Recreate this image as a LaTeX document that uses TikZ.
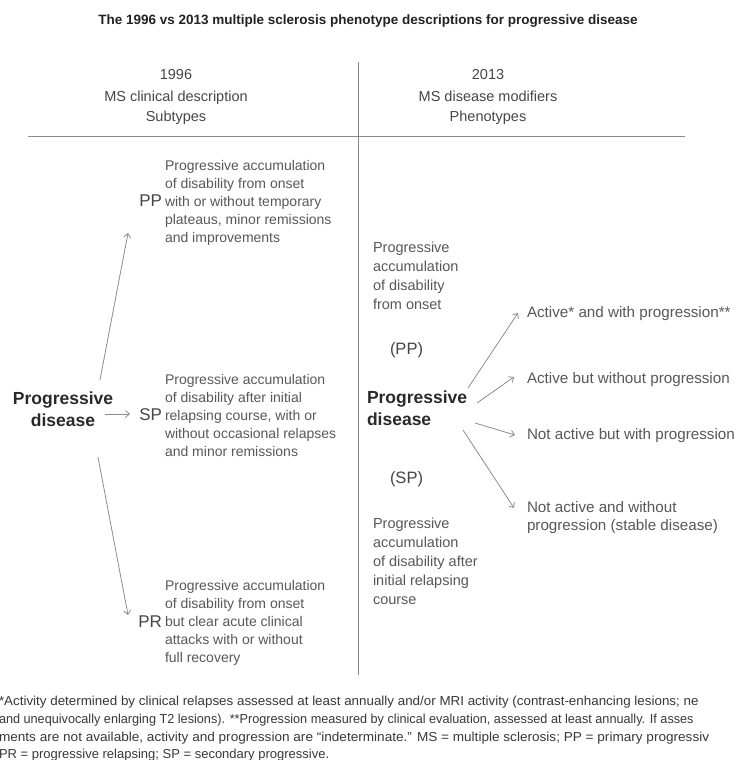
\documentclass[tikz,border=0pt]{standalone}
\usepackage{fontspec}
\setmainfont{Liberation Sans}
\usetikzlibrary{arrows.meta}
\definecolor{titlec}{HTML}{222222}
\definecolor{hdrc}{HTML}{474747}
\definecolor{bodyc}{HTML}{585858}
\definecolor{labc}{HTML}{454545}
\definecolor{boldc}{HTML}{2A2A2A}
\definecolor{rulec}{HTML}{8A8A8A}
\definecolor{arrc}{HTML}{8C8C8C}
\definecolor{footc}{HTML}{383838}
\newcommand{\mlines}[4]{{\fontsize{#2}{#3}\selectfont\begin{tabular}[t]{@{}#1@{}}#4\end{tabular}}}
\begin{document}
\begin{tikzpicture}[x=1pt,y=-1pt,
  every node/.style={inner sep=0pt,outer sep=0pt},
  rulel/.style={draw=rulec,line width=0.9pt},
  arr/.style={draw=arrc,line width=0.8pt,-{Straight Barb[length=4pt,width=7pt,line width=0.8pt]}},
  bodytxt/.style={text=bodyc,anchor=base west},
  labtxt/.style={text=labc,anchor=base east,font=\fontsize{17}{20}\selectfont},
  boldtxt/.style={text=boldc,font=\bfseries},
  opttxt/.style={text=bodyc,anchor=base west,font=\fontsize{15.2}{18}\selectfont},
  foottxt/.style={text=footc,anchor=base west,font=\fontsize{13}{15}\selectfont}]
\useasboundingbox (0,0) rectangle (735,760);
\clip (0,0) rectangle (735,760);
\fill[white] (0,0) rectangle (735,760);

% title
\node[anchor=base,text=titlec,font=\bfseries\fontsize{13.5}{16}\selectfont] (title) at (368,25)
  {The 1996 vs 2013 multiple sclerosis phenotype descriptions for progressive disease};

% headers
\node[anchor=base,text=hdrc] (h96) at (176,80)
  {\mlines{c}{14.5}{21}{1996\\MS clinical description\\Subtypes}};
\node[anchor=base,text=hdrc] (h13) at (488,80)
  {\mlines{c}{14.5}{21}{2013\\MS disease modifiers\\Phenotypes}};

% rules
\coordinate (hl) at (28,136);
\coordinate (hr) at (685,136);
\coordinate (vt) at (358,62);
\coordinate (vb) at (358,675);
\draw[rulel] (hl) -- (hr);
\draw[rulel] (vt) -- (vb);

% left column
\node[boldtxt,anchor=base] (pdL) at (63,404)
  {\mlines{c}{17.5}{22}{Progressive\\disease}};

\node[bodytxt] (ppT) at (165,170)
  {\mlines{l}{14}{18}{Progressive accumulation\\of disability from onset\\with or without temporary\\plateaus, minor remissions\\and improvements}};
\node[labtxt] (pp) at (162,206) {PP};

\node[bodytxt] (spT) at (165,384)
  {\mlines{l}{14}{18}{Progressive accumulation\\of disability after initial\\relapsing course, with or\\without occasional relapses\\and minor remissions}};
\node[labtxt] (sp) at (162,420) {SP};

\node[bodytxt] (prT) at (165,590)
  {\mlines{l}{14}{18.2}{Progressive accumulation\\of disability from onset\\but clear acute clinical\\attacks with or without\\full recovery}};
\node[labtxt] (pr) at (162,627) {PR};

\coordinate (aPPs) at (100,380);
\coordinate (aPPe) at (128,233);
\coordinate (aSPs) at (105,414);
\coordinate (aSPe) at (130,414);
\coordinate (aPRs) at (98,457);
\coordinate (aPRe) at (128,615);
\draw[arr] (aPPs) -- (aPPe);
\draw[arr] (aSPs) -- (aSPe);
\draw[arr] (aPRs) -- (aPRe);

% right column
\node[bodytxt] (rppT) at (373,252)
  {\mlines{l}{14.5}{19}{Progressive\\accumulation\\of disability\\from onset}};
\node[text=labc,anchor=base west,font=\fontsize{16.5}{19}\selectfont] (rpp) at (390,354) {(PP)};
\node[boldtxt,anchor=base west] (pdR) at (367,403)
  {\mlines{l}{17.5}{22}{Progressive\\disease}};
\node[text=labc,anchor=base west,font=\fontsize{16.5}{19}\selectfont] (rsp) at (390,483) {(SP)};
\node[bodytxt] (rspT) at (373,528)
  {\mlines{l}{14.5}{19}{Progressive\\accumulation\\of disability after\\initial relapsing\\course}};

\node[opttxt] (o1) at (527,317) {Active* and with progression**};
\node[opttxt] (o2) at (527,383) {Active but without progression};
\node[opttxt] (o3) at (527,439) {Not active but with progression};
\node[opttxt] (o4) at (527,512) {\mlines{l}{15.2}{18}{Not active and without\\progression (stable disease)}};

\coordinate (r1s) at (468,388);
\coordinate (r1e) at (518,313);
\coordinate (r2s) at (477,403);
\coordinate (r2e) at (514,377);
\coordinate (r3s) at (475,423);
\coordinate (r3e) at (515,435);
\coordinate (r4s) at (463,430);
\coordinate (r4e) at (514,508);
\draw[arr] (r1s) -- (r1e);
\draw[arr] (r2s) -- (r2e);
\draw[arr] (r3s) -- (r3e);
\draw[arr] (r4s) -- (r4e);

% footnote
\node[foottxt] (f1) at (-1,705) {\scalebox{1.03}[1]{*Activity determined by clinical relapses assessed at least annually and/or MRI activity (contrast-enhancing lesions; ne}};
\node[foottxt] (f2) at (-1,723) {\scalebox{0.975}[1]{and unequivocally enlarging T2 lesions). **Progression measured by clinical evaluation, assessed at least annually. If asses}};
\node[foottxt] (f3) at (-1,741) {\scalebox{1.045}[1]{ments are not available, activity and progression are “indeterminate.” MS = multiple sclerosis; PP = primary progressiv}};
\node[foottxt] (f4) at (-1,758) {PR = progressive relapsing; SP = secondary progressive.};
\end{tikzpicture}
\end{document}
